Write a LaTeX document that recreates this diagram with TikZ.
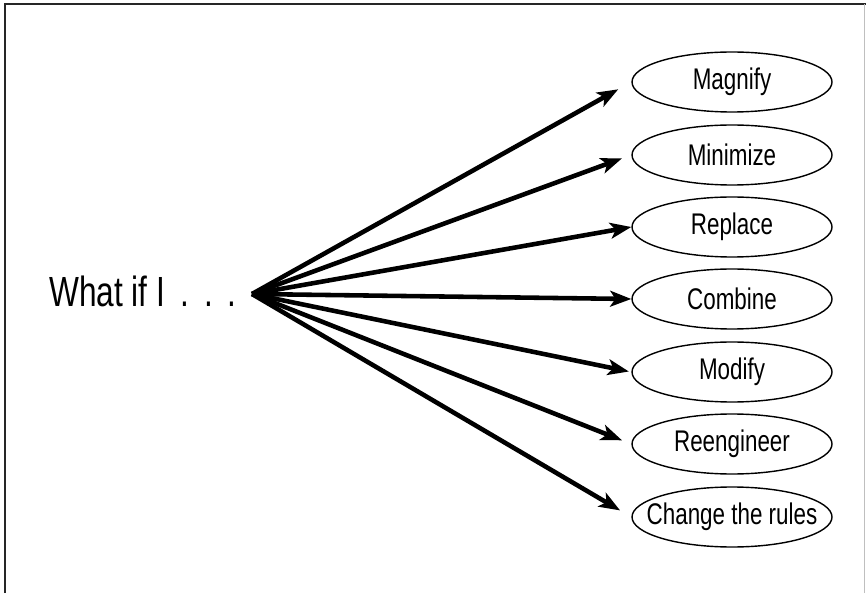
\documentclass[tikz,border=0pt]{standalone}
\usepackage{fontspec}
\setmainfont{Liberation Sans}[FakeStretch=0.75]
\usetikzlibrary{shapes,arrows.meta}

\begin{document}
\begin{tikzpicture}[idea/.style={ellipse,draw,line width=0.8pt,minimum width=4cm,minimum height=1.2cm,inner xsep=-3mm,inner ysep=1mm,font=\fontsize{17}{20}\selectfont},
    fan/.style={-{Stealth[length=12pt,width=9pt,inset=3pt]},line width=2.6pt}]
  \useasboundingbox (0,0) rectangle (17.32,11.86);
  % frame
  \draw[line width=1.6pt,black!85] (0.1,0) |- (17.32,11.78);
  \draw[black!25,line width=0.4pt] (17.28,0) -- (17.28,11.78);
  \coordinate (hub) at (5.04,5.98);
  \node[anchor=base east,inner sep=0pt,font=\fontsize{24}{28}\selectfont] (what) at (4.74,5.72)
    {What if I\hspace{0.3cm}.\hspace{0.3cm}.\hspace{0.3cm}.};
  \node[idea] (mag) at (14.64,10.22) {Magnify};
  \node[idea] (min) at (14.64,8.76) {Minimize};
  \node[idea] (rep) at (14.64,7.32) {Replace};
  \node[idea] (com) at (14.64,5.88) {Combine};
  \node[idea] (mod) at (14.64,4.42) {Modify};
  \node[idea] (ree) at (14.64,2.98) {Reengineer};
  \node[idea] (chg) at (14.64,1.52) {Change the rules};
  \path[fan] (hub) edge[shorten >=3mm] (mag.west)
                   edge[shorten >=2mm] (min.west)
                   edge (rep.west)
                   edge (com.west)
                   edge[shorten >=0.5mm] (mod.west)
                   edge[shorten >=2mm] (ree.west)
                   edge[shorten >=2.6mm] (chg.west);
\end{tikzpicture}
\end{document}
